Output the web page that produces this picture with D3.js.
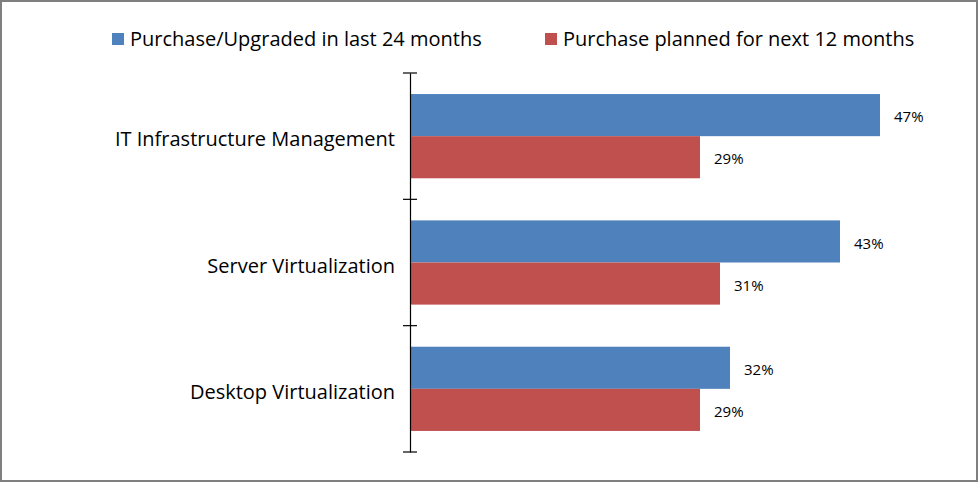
<!DOCTYPE html>
<html>
<head>
<meta charset="utf-8">
<script src="https://cdn.jsdelivr.net/npm/d3@7"></script>
<style>
  body { margin: 0; background: #fff; }
  svg { display: block; font-family: "Open Sans", "Liberation Sans", sans-serif; }
</style>
</head>
<body>
<div id="chart"></div>
<script>
const categories = ['IT Infrastructure Management', 'Server Virtualization', 'Desktop Virtualization'];
const seriesNames = ['Purchase/Upgraded in last 24 months', 'Purchase planned for next 12 months'];
const purchased = [0.47, 0.43, 0.32];
const planned = [0.29, 0.31, 0.29];
const colors = ['#4F81BD', '#C0504D'];

const width = 979, height = 483;
const svg = d3.select('#chart').append('svg')
    .attr('width', width)
    .attr('height', height);

// outer frame
svg.append('rect')
    .attr('x', 1).attr('y', 1)
    .attr('width', width - 3).attr('height', height - 3)
    .attr('fill', 'white')
    .attr('stroke', '#7f7f7f')
    .attr('stroke-width', 2);

const x = d3.scaleLinear().domain([0, 0.5]).range([410, 910]);
const y = d3.scaleBand().domain(categories).range([73, 452]);
const inner = d3.scaleBand().domain([0, 1]).range([0, y.bandwidth()]).paddingOuter(0.5);

const rows = categories.map((c, i) => ({ cat: c, values: [purchased[i], planned[i]] }));

const groups = svg.selectAll('g.row')
    .data(rows)
    .enter()
    .append('g')
    .attr('class', 'row')
    .attr('transform', d => `translate(0,${y(d.cat)})`);

groups.selectAll('rect')
    .data(d => d.values.map((v, j) => ({ v, j })))
    .enter()
    .append('rect')
    .attr('x', x(0))
    .attr('y', d => inner(d.j))
    .attr('width', d => x(d.v) - x(0))
    .attr('height', inner.bandwidth())
    .attr('fill', d => colors[d.j]);

groups.selectAll('text.val')
    .data(d => d.values.map((v, j) => ({ v, j })))
    .enter()
    .append('text')
    .attr('class', 'val')
    .attr('x', d => x(d.v) + 14)
    .attr('y', d => inner(d.j) + inner.bandwidth() / 2 + 2)
    .attr('dy', '0.35em')
    .attr('font-size', 15)
    .attr('fill', '#000')
    .text(d => d3.format('.0%')(d.v));

// category axis
const axis = svg.append('g')
    .attr('transform', `translate(${x(0)},0)`)
    .call(d3.axisLeft(y).tickSize(0).tickPadding(15));
axis.select('.domain').attr('stroke', '#000').attr('stroke-width', 1.2);
axis.selectAll('text')
    .attr('font-size', 20)
    .attr('fill', '#000')
    .attr('dy', '0.5em')
    .attr('font-family', '"Open Sans", sans-serif');

// tick marks between categories
const edges = categories.map(c => y(c)).concat([y.range()[1]]);
svg.selectAll('line.tick')
    .data(edges)
    .enter()
    .append('line')
    .attr('class', 'tick')
    .attr('x1', x(0) - 7).attr('x2', x(0) + 7)
    .attr('y1', d => d).attr('y2', d => d)
    .attr('stroke', '#000')
    .attr('stroke-width', 1.2);

// legend
const legendX = [112, 545];
const legend = svg.selectAll('g.legend')
    .data(seriesNames)
    .enter()
    .append('g')
    .attr('class', 'legend')
    .attr('transform', (d, i) => `translate(${legendX[i]},33)`);
legend.append('rect')
    .attr('width', 12).attr('height', 12)
    .attr('fill', (d, i) => colors[i]);
legend.append('text')
    .attr('x', 18)
    .attr('y', 6)
    .attr('dy', '0.35em')
    .attr('font-size', 20)
    .attr('fill', '#000')
    .text(d => d);
</script>
</body>
</html>
